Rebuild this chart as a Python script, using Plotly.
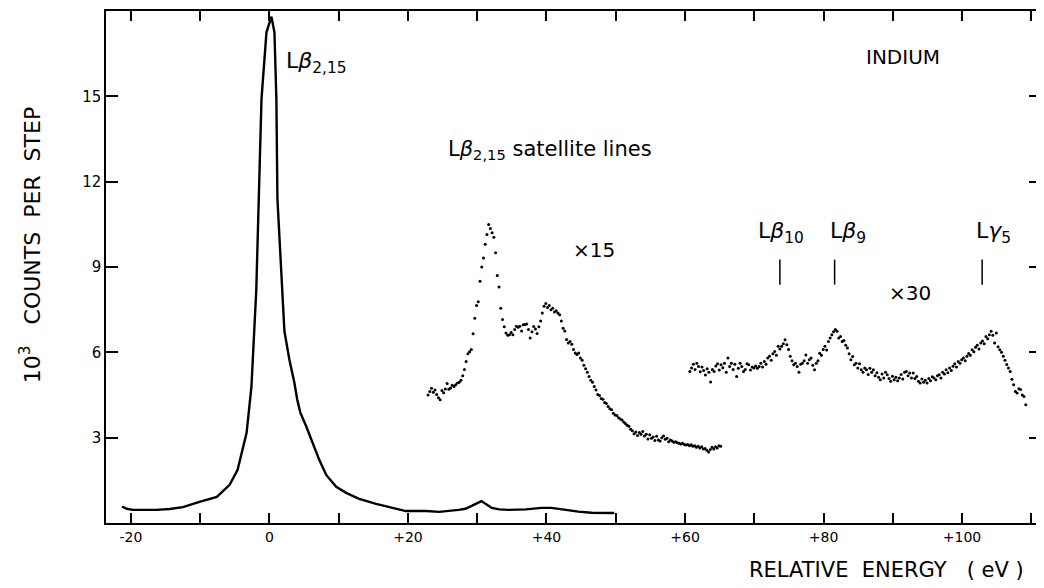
import plotly.graph_objects as go

# main Lβ2,15 line (solid)
main_x = [-21.3, -20.6, -19.7, -18.0, -16.3, -14.4, -12.5, -10.1, -7.6, -5.75, -4.6, -3.3, -2.6, -1.9,
          -1.15, -0.43, 0.29, 0.72, 1.0, 1.15, 1.87, 2.16, 2.88, 3.6, 4.0, 4.46, 5.3, 6.2, 7.19, 8.2, 9.64,
          11.08, 12.95, 15.4, 17.7, 19.7, 22.6, 24.5, 27.3, 28.3, 29.2, 29.9, 30.6, 31.3, 32.1, 33.2,
          34.5, 37.0, 39.3, 40.7, 42.7, 44.6, 46.5, 48.2, 49.8]
main_y = [0.58, 0.50, 0.46, 0.45, 0.46, 0.49, 0.56, 0.74, 0.92, 1.34, 1.87, 3.17, 4.79, 8.2,
          14.9, 17.25, 17.8, 17.25, 14.9, 11.4, 7.85, 6.75, 5.74, 4.93, 4.35, 3.88, 3.4, 2.85, 2.22, 1.69, 1.27,
          1.06, 0.85, 0.67, 0.53, 0.42, 0.42, 0.39, 0.46, 0.50, 0.60, 0.70, 0.77, 0.66, 0.53, 0.48,
          0.46, 0.48, 0.53, 0.53, 0.45, 0.40, 0.36, 0.36, 0.35]

# satellite region x15 (dots), scan step 0.25 eV
sat_start, sat_step = 22.9, 0.25
sat_y = [4.50, 4.62, 4.74, 4.60, 4.68, 4.52, 4.40, 4.33, 4.66, 4.58,
         4.71, 4.90, 4.70, 4.75, 4.84, 4.80, 4.86, 4.92, 4.95, 5.02,
         5.18, 5.40, 5.68, 5.95, 6.02, 6.10, 6.65, 7.20, 7.65, 7.78,
         8.50, 9.00, 9.32, 9.80, 10.14, 10.49, 10.35, 10.20, 10.05, 9.50,
         8.70, 8.30, 7.55, 7.15, 6.90, 6.68, 6.60, 6.62, 6.70, 6.62,
         6.80, 6.92, 6.88, 6.92, 6.75, 6.97, 6.98, 7.00, 6.80, 6.50,
         6.72, 6.91, 6.82, 6.66, 6.90, 7.10, 7.38, 7.62, 7.72, 7.58,
         7.65, 7.50, 7.55, 7.42, 7.46, 7.38, 7.32, 7.10, 6.85, 6.75,
         6.45, 6.33, 6.38, 6.28, 6.10, 5.98, 5.92, 5.98, 5.80, 5.72,
         5.55, 5.42, 5.30, 5.15, 5.02, 4.95, 4.80, 4.68, 4.52, 4.48,
         4.38, 4.35, 4.24, 4.20, 4.10, 4.02, 3.98, 3.86, 3.80, 3.78,
         3.70, 3.66, 3.62, 3.55, 3.50, 3.44, 3.40, 3.30, 3.24, 3.14,
         3.20, 3.08, 3.18, 3.12, 3.22, 3.06, 3.12, 2.95, 3.10, 2.98,
         3.02, 2.90, 3.05, 2.92, 2.88, 3.00, 3.06, 2.94, 2.98, 2.86,
         2.92, 2.88, 2.84, 2.86, 2.82, 2.80, 2.78, 2.80, 2.76, 2.74,
         2.76, 2.72, 2.75, 2.70, 2.72, 2.66, 2.70, 2.64, 2.68, 2.60,
         2.62, 2.56, 2.50, 2.58, 2.66, 2.60, 2.68, 2.64, 2.72, 2.70]

# Lβ10 / Lβ9 / Lγ5 region x30 (dots)
hi_start, hi_step = 60.7, 0.25
hi_y = [5.33, 5.45, 5.58, 5.40, 5.62, 5.50, 5.32, 5.48, 5.36, 5.20,
        5.42, 5.30, 4.96, 5.40, 5.33, 5.52, 5.60, 5.38, 5.56, 5.46,
        5.62, 5.30, 5.80, 5.50, 5.62, 5.40, 5.58, 5.15, 5.44, 5.62,
        5.50, 5.33, 5.40, 5.60, 5.56, 5.38, 5.48, 5.45, 5.52, 5.44,
        5.50, 5.62, 5.48, 5.68, 5.58, 5.80, 5.86, 5.72, 5.95, 6.03,
        5.90, 6.21, 6.12, 6.21, 6.30, 6.44, 6.27, 6.10, 5.86, 5.70,
        5.56, 5.62, 5.50, 5.30, 5.58, 5.62, 5.70, 5.91, 5.62, 5.74,
        5.80, 5.55, 5.39, 5.62, 5.70, 5.97, 5.90, 6.10, 6.21, 6.08,
        6.38, 6.50, 6.62, 6.72, 6.80, 6.74, 6.50, 6.56, 6.38, 6.42,
        6.25, 6.15, 5.95, 5.74, 5.85, 5.56, 5.62, 5.45, 5.60, 5.39,
        5.30, 5.45, 5.39, 5.22, 5.44, 5.30, 5.39, 5.18, 5.28, 5.12,
        5.04, 5.24, 5.10, 5.30, 5.21, 5.08, 4.98, 5.16, 5.04, 5.12,
        5.00, 5.10, 5.22, 5.06, 5.30, 5.33, 5.18, 5.27, 5.10, 5.27,
        5.08, 5.15, 4.98, 4.92, 5.06, 4.95, 5.02, 4.92, 5.08, 5.00,
        5.14, 5.10, 5.04, 5.18, 5.21, 5.10, 5.30, 5.24, 5.39, 5.28,
        5.45, 5.36, 5.51, 5.60, 5.48, 5.68, 5.62, 5.74, 5.80, 5.70,
        5.86, 5.96, 5.90, 6.09, 6.02, 6.18, 6.25, 6.12, 6.33, 6.40,
        6.30, 6.56, 6.48, 6.62, 6.74, 6.60, 6.33, 6.68, 6.20, 6.09,
        6.00, 5.86, 5.72, 5.57, 5.45, 5.33, 5.05, 4.86, 4.62, 4.57,
        4.72, 4.69, 4.50, 4.45, 4.16]

x_ticks = [-20, -10, 0, 10, 20, 30, 40, 50, 60, 70, 80, 90, 100, 110]
x_ticktext = ["-20", "", "0", "", "+20", "", "+40", "", "+60", "", "+80", "", "+100", ""]
y_ticks = [3, 6, 9, 12, 15]

# satellite line positions marked with short bars
line_names = ["L<i>β</i><sub>10</sub>", "L<i>β</i><sub>9</sub>", "L<i>γ</i><sub>5</sub>"]
line_energies = [73.7, 81.6, 102.9]
line_label_x = [70.2, 80.6, 101.7]

sat_x = [round(sat_start + sat_step * i, 2) for i in range(len(sat_y))]
hi_x = [round(hi_start + hi_step * i, 2) for i in range(len(hi_y))]

font = "DejaVu Sans, sans-serif"

fig = go.Figure()
fig.add_trace(go.Scatter(x=main_x, y=main_y, mode="lines",
                         line=dict(color="black", width=2.4)))
fig.add_trace(go.Scatter(x=sat_x, y=sat_y, mode="markers",
                         marker=dict(color="black", size=3)))
fig.add_trace(go.Scatter(x=hi_x, y=hi_y, mode="markers",
                         marker=dict(color="black", size=3)))

for e in line_energies:
    fig.add_shape(type="line", x0=e, x1=e, y0=8.38, y1=9.26,
                  line=dict(color="black", width=1.5))

ann = [
    dict(x=2.16, y=16.2, text="L<i>β</i><sub>2,15</sub>", size=22),
    dict(x=25.5, y=13.1, text="L<i>β</i><sub>2,15</sub> satellite lines", size=21),
    dict(x=43.6, y=9.6, text="×15", size=20),
    dict(x=85.9, y=16.4, text="INDIUM", size=20),
    dict(x=89.2, y=8.1, text="×30", size=20),
]
for name, lx in zip(line_names, line_label_x):
    ann.append(dict(x=lx, y=10.2, text=name, size=22))

for a in ann:
    fig.add_annotation(x=a["x"], y=a["y"], text=a["text"], xanchor="left",
                       yanchor="middle", showarrow=False,
                       font=dict(family=font, size=a["size"], color="black"))

fig.add_annotation(xref="paper", yref="paper", x=-0.081, y=0.543, xanchor="center", yanchor="middle",
                   text="10<sup>3</sup>   COUNTS  PER  STEP", textangle=-90, showarrow=False,
                   font=dict(family=font, size=22, color="black"))
fig.add_annotation(xref="paper", yref="paper", x=0.835, y=-0.092, xanchor="center", yanchor="middle",
                   text="RELATIVE  ENERGY   ( eV )", showarrow=False,
                   font=dict(family=font, size=21, color="black"))

fig.update_xaxes(range=[-23.6, 111.4], tickmode="array", tickvals=x_ticks, ticktext=x_ticktext,
                 ticks="inside", ticklen=10, tickwidth=1.5, tickcolor="black",
                 showline=True, linecolor="black", linewidth=1.5, mirror="ticks",
                 showgrid=False, zeroline=False,
                 tickfont=dict(family=font, size=14, color="black"))
fig.update_yaxes(range=[0, 18], tickmode="array", tickvals=y_ticks,
                 ticks="inside", ticklen=12, tickwidth=1.5, tickcolor="black",
                 showline=True, linecolor="black", linewidth=1.5, mirror="ticks",
                 showgrid=False, zeroline=False,
                 tickfont=dict(family=font, size=15, color="black"))

# page body keeps an 8px margin, so the figure is 8px smaller than the window
fig.update_layout(width=1036, height=580, margin=dict(l=98, r=1, t=3, b=65),
                  paper_bgcolor="white", plot_bgcolor="white", showlegend=False)

fig.write_html("out.html")
